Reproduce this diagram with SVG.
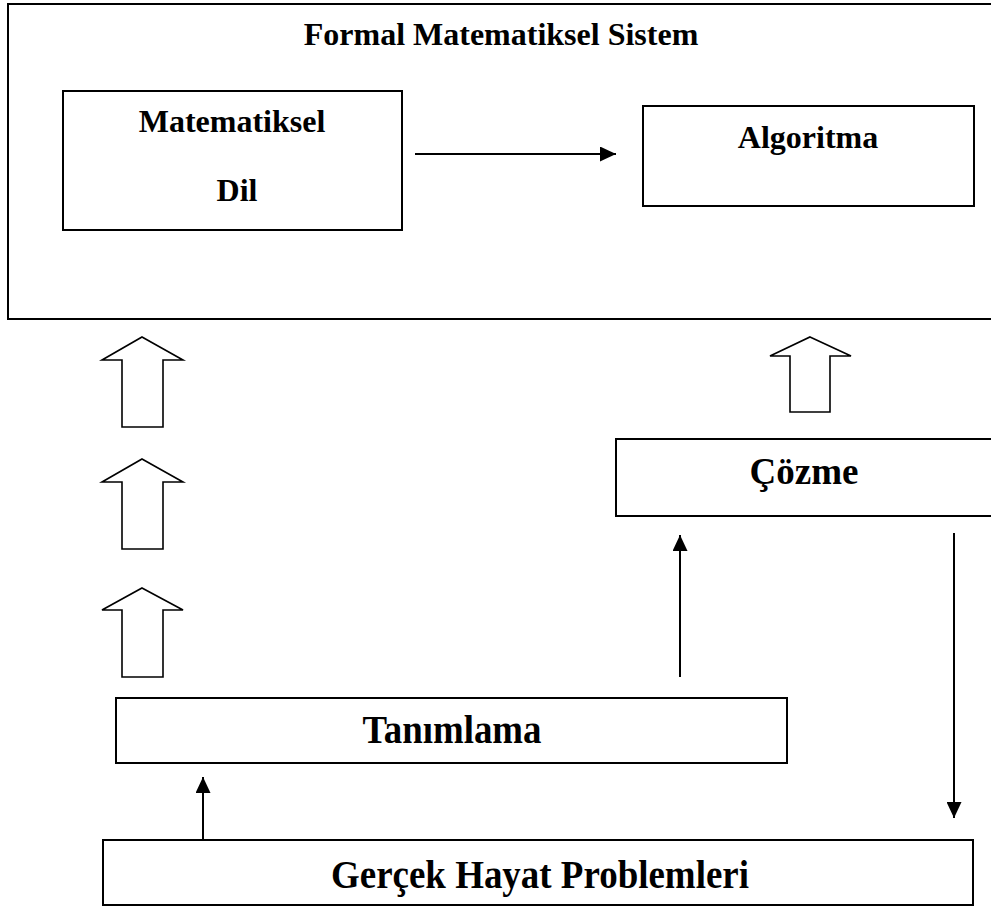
<svg xmlns="http://www.w3.org/2000/svg" width="991" height="913" viewBox="0 0 991 913">
<defs>
<style>
.box{fill:#fff;stroke:#000;stroke-width:2}
.t{font-family:"Liberation Serif","Times New Roman",serif;font-weight:bold;fill:#000;text-anchor:middle}
.hollow{fill:#fff;stroke:#000;stroke-width:1.6;stroke-linejoin:miter}
.conn{stroke:#000;stroke-width:2;fill:none}
</style>
<marker id="ah" markerWidth="16" markerHeight="15" refX="16" refY="7.5" orient="auto" markerUnits="userSpaceOnUse" viewBox="0 0 16 15">
<path d="M0,0 L16,7.5 L0,15 Z" fill="#000"/>
</marker>
</defs>
<rect width="991" height="913" fill="#fff"/>
<g id="formal-sistem">
<rect class="box" x="8" y="4" width="995" height="315"/>
<text class="t" x="501" y="45" font-size="32">Formal Matematiksel Sistem</text>
</g>
<g id="matematiksel-dil">
<rect class="box" x="63" y="91" width="339" height="139"/>
<text class="t" x="232" y="132" font-size="32">Matematiksel</text>
<text class="t" x="237" y="201" font-size="32">Dil</text>
</g>
<g id="algoritma">
<rect class="box" x="643" y="106" width="331" height="100"/>
<text class="t" x="808" y="148" font-size="32">Algoritma</text>
</g>
<g id="cozme">
<rect class="box" x="616" y="439" width="390" height="77"/>
<text class="t" x="804" y="484" font-size="37">Çözme</text>
</g>
<g id="tanimlama">
<rect class="box" x="116" y="698" width="671" height="65"/>
<text class="t" x="452" y="743" font-size="39" textLength="179" lengthAdjust="spacingAndGlyphs">Tanımlama</text>
</g>
<g id="gercek-hayat">
<rect class="box" x="103" y="840" width="870" height="65"/>
<text class="t" x="540" y="888" font-size="40" textLength="418" lengthAdjust="spacingAndGlyphs">Gerçek Hayat Problemleri</text>
</g>
<g id="hollow-arrows">
<path class="hollow" d="M142,337 L183,360 L163,360 L163,427 L122,427 L122,360 L102,360 Z"/>
<path class="hollow" d="M142,459 L183,482 L163,482 L163,549 L122,549 L122,482 L102,482 Z"/>
<path class="hollow" d="M142,588 L183,610 L163,610 L163,677 L122,677 L122,610 L102,610 Z"/>
<path class="hollow" d="M810,337 L851,356 L830,356 L830,412 L790,412 L790,356 L770,356 Z"/>
</g>
<g id="connectors">
<line class="conn" x1="415" y1="154" x2="616" y2="154" marker-end="url(#ah)"/>
<line class="conn" x1="680" y1="677" x2="680" y2="535" marker-end="url(#ah)"/>
<line class="conn" x1="954" y1="533" x2="954" y2="818" marker-end="url(#ah)"/>
<line class="conn" x1="203" y1="840" x2="203" y2="777" marker-end="url(#ah)"/>
</g>
</svg>
